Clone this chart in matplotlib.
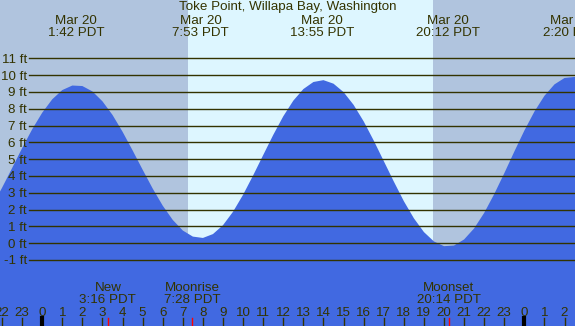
import matplotlib
matplotlib.use("Agg")
import matplotlib.pyplot as plt
import matplotlib.transforms as mtransforms

# tide height (ft), every half hour from 21:00 Mar 19 (-3 h)
hours = [-3.0, -2.5, -2.0, -1.5, -1.0, -0.5, 0.0, 0.5, 1.0, 1.5,
         2.0, 2.5, 3.0, 3.5, 4.0, 4.5, 5.0, 5.5, 6.0, 6.5,
         7.0, 7.5, 8.0, 8.5, 9.0, 9.5, 10.0, 10.5, 11.0, 11.5,
         12.0, 12.5, 13.0, 13.5, 14.0, 14.5, 15.0, 15.5, 16.0, 16.5,
         17.0, 17.5, 18.0, 18.5, 19.0, 19.5, 20.0, 20.5, 21.0, 21.5,
         22.0, 22.5, 23.0, 23.5, 24.0, 24.5, 25.0, 25.5, 26.0, 26.5, 27.0]
heights = [1.29, 2.21, 3.29, 4.46, 5.65, 6.77, 7.76, 8.56, 9.11, 9.38,
           9.35, 9.03, 8.44, 7.63, 6.63, 5.52, 4.37, 3.25, 2.23, 1.38,
           0.75, 0.39, 0.31, 0.54, 1.07, 1.87, 2.88, 4.03, 5.24, 6.44,
           7.55, 8.48, 9.17, 9.59, 9.70, 9.49, 8.99, 8.23, 7.25, 6.11,
           4.89, 3.67, 2.50, 1.48, 0.66, 0.10, -0.18, -0.14, 0.22, 0.88,
           1.80, 2.92, 4.16, 5.45, 6.70, 7.83, 8.77, 9.45, 9.83, 9.89, 9.80]

# high / low tide events
tide_hours = [1.7, 7.883, 13.917, 20.2, 26.333]
tide_labels = ["1:42 PDT", "7:53 PDT", "13:55 PDT", "20:12 PDT", "2:20 PDT"]
tide_dates = ["Mar 20"] * 5

# moon events
moon_hours = [3.267, 7.467, 20.233]
moon_names = ["New", "Moonrise", "Moonset"]
moon_times = ["3:16 PDT", "7:28 PDT", "20:14 PDT"]

sunrise, sunset = 7.24, 19.44
feet = list(range(-1, 12))
hour_ticks = list(range(-2, 27))

night = "#b0c4de"
day = "#ddf6ff"
water = "#4169e1"
ink = "#333300"
fs = 9.6
plt.rcParams["font.family"] = ["Liberation Sans", "DejaVu Sans"]

fig = plt.figure(figsize=(5.75, 3.26), dpi=100)
ax = fig.add_axes([0, 0, 1, 1])
ax.set_xlim(-2.1, 26.52)
ax.set_ylim(-4.93, 14.47)
ax.axis("off")

# day / night background
ax.axvspan(-2.1, sunrise, color=night, lw=0)
ax.axvspan(sunrise, sunset, color=day, lw=0)
ax.axvspan(sunset, 26.52, color=night, lw=0)

# water
ax.fill_between(hours, heights, -10, color=water, lw=0)

# foot lines and labels
yt = mtransforms.blended_transform_factory(ax.transAxes, ax.transData)
yt_lab = mtransforms.offset_copy(yt, fig=fig, y=-4.5, units="dots")
for f in feet:
    ax.plot([-0.64, 26.52], [f, f], color=ink, lw=1)
    ax.text(0.047, f, f"{f} ft", transform=yt_lab, ha="right", va="baseline",
            fontsize=fs, color=ink)

xt = mtransforms.blended_transform_factory(ax.transData, ax.transAxes)

# hour ticks
for h in hour_ticks:
    ax.text(h, 0.0307, str(h % 24), transform=xt, ha="center", va="baseline",
            fontsize=fs, color=ink)
    lw = 3 if h % 24 == 0 else 1
    ax.plot([h, h], [0, 0.0245], transform=xt, color="black" if lw == 3 else ink, lw=lw)

# moon events
for h, n, t in zip(moon_hours, moon_names, moon_times):
    ax.plot([h, h], [0, 0.0245], transform=xt, color="red", lw=1)
    ax.text(h, 0.1064, n, transform=xt, ha="center", va="baseline", fontsize=fs, color=ink)
    ax.text(h, 0.0696, t, transform=xt, ha="center", va="baseline", fontsize=fs, color=ink)

# tide events
for h, d, t in zip(tide_hours, tide_dates, tide_labels):
    ax.text(h, 0.9254, d, transform=xt, ha="center", va="baseline", fontsize=fs, color=ink)
    ax.text(h, 0.8896, t, transform=xt, ha="center", va="baseline", fontsize=fs, color=ink)

ax.text(0.5, 0.9693, "Toke Point, Willapa Bay, Washington", transform=ax.transAxes,
        ha="center", va="baseline", fontsize=fs, color=ink)

fig.savefig("out.png", dpi=100)
